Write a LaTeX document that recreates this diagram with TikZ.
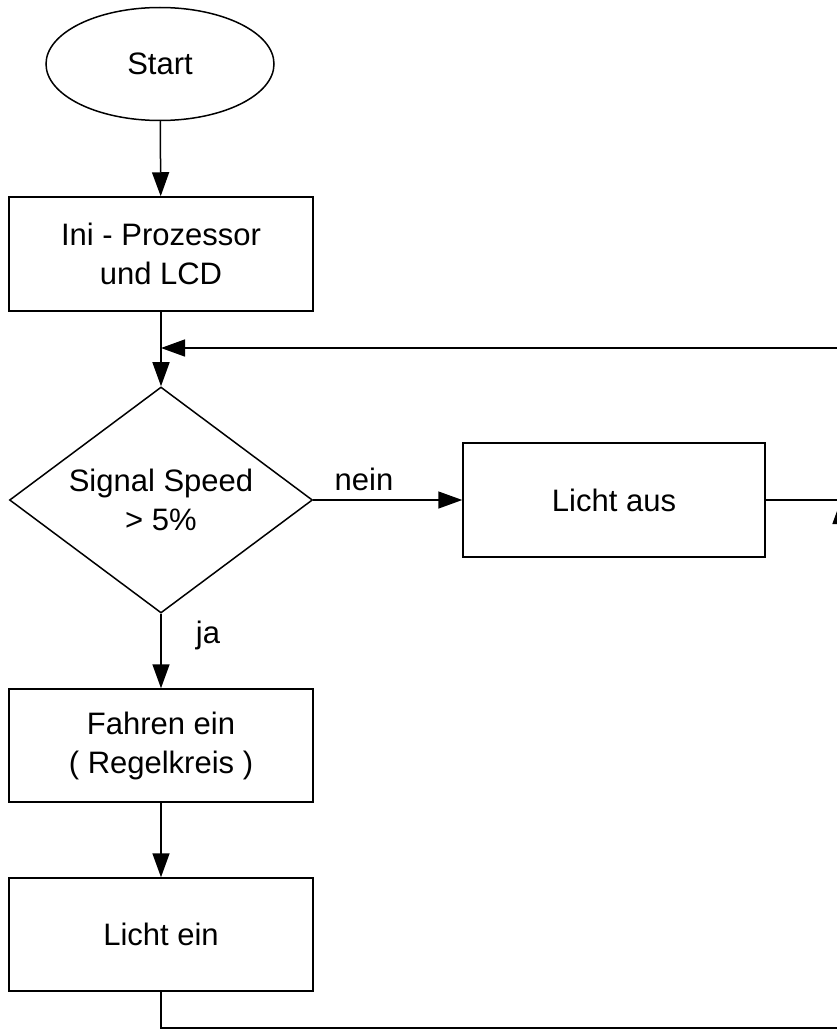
\documentclass[tikz,border=0pt]{standalone}
\usepackage{fontspec}
\setmainfont{Liberation Sans}
\usetikzlibrary{shapes.geometric,arrows.meta}
\begin{document}
\begin{tikzpicture}[x=1pt,y=-1pt,
  every node/.style={font=\fontsize{31}{39}\selectfont, inner sep=0pt, align=center},
  ln/.style={line width=1.5pt, line join=miter},
  arr/.style={ln, -{Triangle[length=24pt,width=17pt]}},
  procbox/.style={draw, line width=1.5pt, rectangle, minimum width=304pt, minimum height=114pt},
  startell/.style={draw, line width=1.5pt, ellipse, minimum width=228pt, minimum height=113pt},
  decide/.style={draw, line width=1.5pt, diamond, aspect=1.345, minimum width=303pt, minimum height=226pt},
  lbl/.style={anchor=base}]
\useasboundingbox (0,0) rectangle (837,1030);
\clip (0,0) rectangle (837,1030);
\node[startell] (start) at (160,64) {Start};
\node[procbox] (ini) at (161,254) {Ini - Prozessor\\und LCD};
\node[decide] (dec) at (161,500) {Signal Speed\\> 5\%};
\node[procbox, minimum width=302pt] (aus) at (614,500) {Licht aus};
\node[procbox, minimum height=113pt] (fahr) at (161,745.5) {Fahren ein\\( Regelkreis )};
\node[procbox, minimum height=113pt] (ein) at (161,934.5) {Licht ein};
\node[lbl] (lnein) at (364,490) {nein};
\node[lbl] (lja) at (208,643) {ja};
\coordinate (merge) at (161,348);
\coordinate (join) at (841,500);
\coordinate (corner) at (841,1028);
\coordinate (topright) at (841,348);
\draw[arr] (start) -- (ini);
\draw[arr] (ini) -- (dec);
\draw[arr] (dec.east) -- (aus.west);
\draw[arr] (dec.south) -- (fahr);
\draw[arr] (fahr) -- (ein);
\draw[ln] (ein.south) |- (corner);
\draw[arr] (corner) -- (join);
\draw[ln] (aus.east) -- (join);
\draw[arr] (join) -- (topright) -- (merge);
\end{tikzpicture}
\end{document}
